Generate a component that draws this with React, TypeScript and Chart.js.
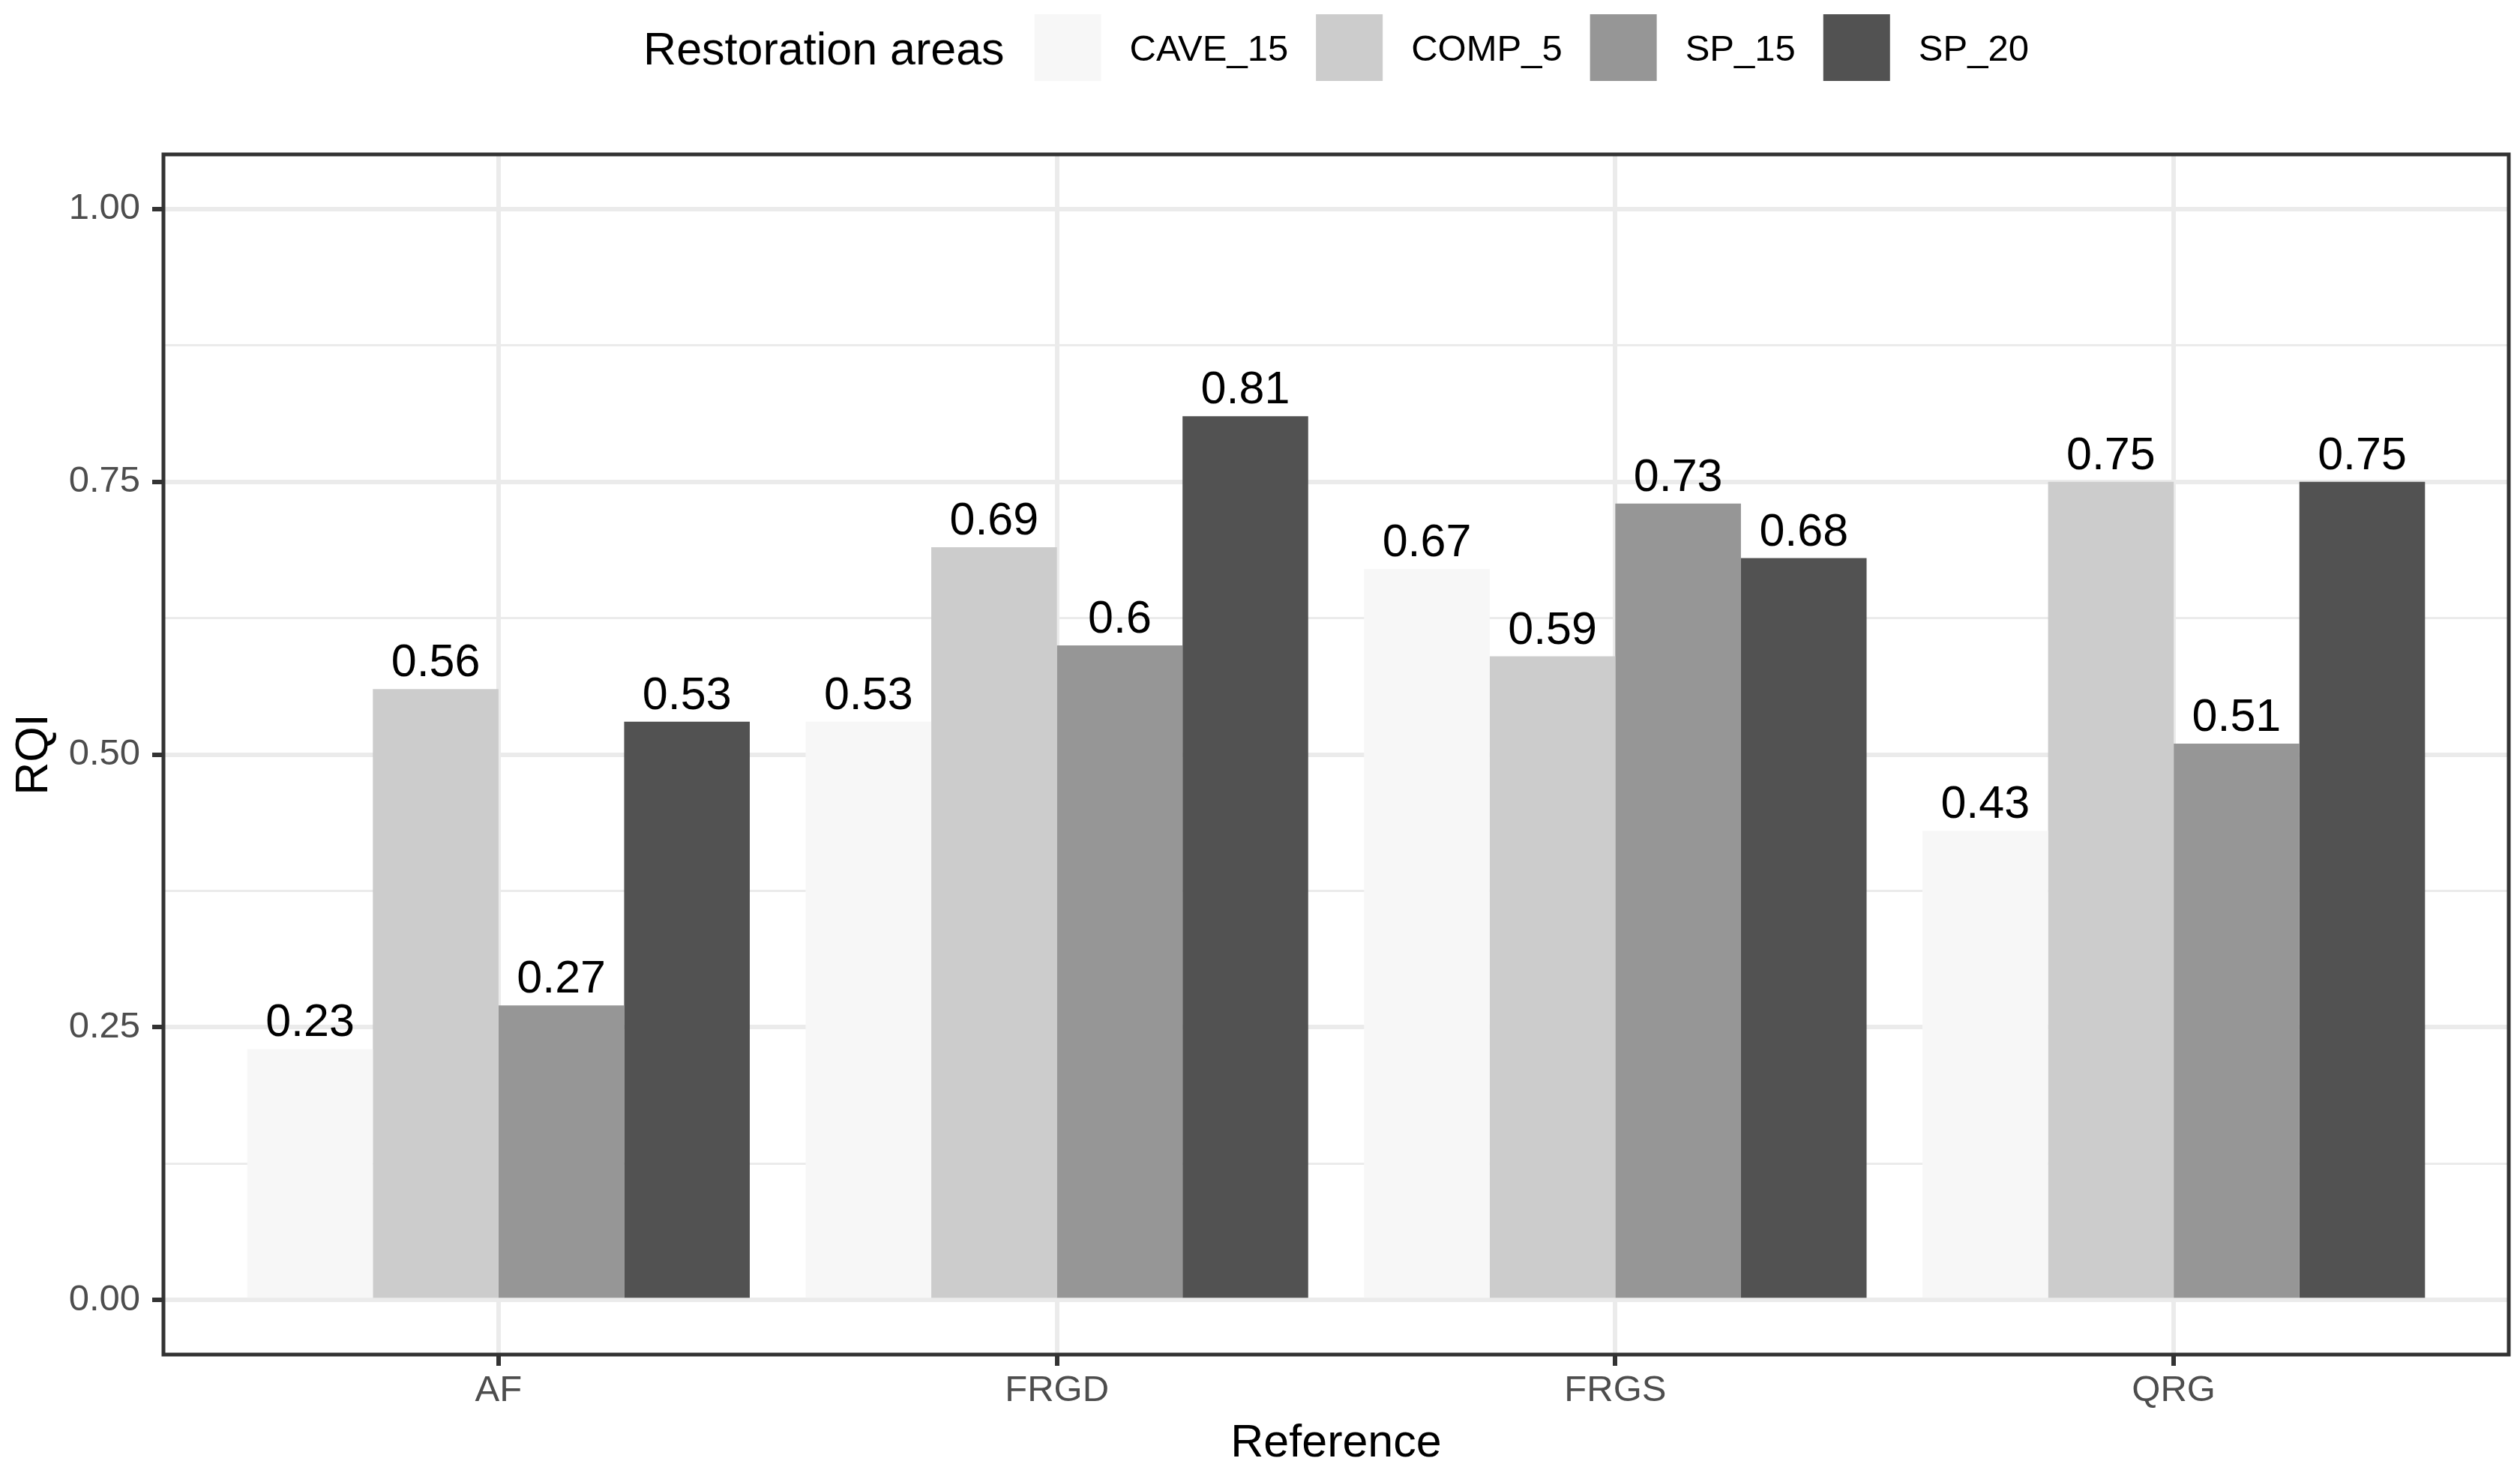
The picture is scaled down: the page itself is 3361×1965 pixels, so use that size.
import React, { useEffect, useRef } from 'react';
import { Chart, registerables } from 'chart.js';

Chart.register(...registerables);

const categories = ['AF', 'FRGD', 'FRGS', 'QRG'];
const seriesNames = ['CAVE_15', 'COMP_5', 'SP_15', 'SP_20'];
const cave15 = [0.23, 0.53, 0.67, 0.43];
const comp5 = [0.56, 0.69, 0.59, 0.75];
const sp15 = [0.27, 0.6, 0.73, 0.51];
const sp20 = [0.53, 0.81, 0.68, 0.75];
const seriesValues = [cave15, comp5, sp15, sp20];
const seriesColors = ['#F7F7F7', '#CCCCCC', '#969696', '#525252'];
const yTickValues = [0, 0.125, 0.25, 0.375, 0.5, 0.625, 0.75, 0.875, 1];
const legendTitle = 'Restoration areas';
const xTitle = 'Reference';
const yTitle = 'RQI';

const FONT = '"Liberation Sans", Arial, Helvetica, sans-serif';
Chart.defaults.font.family = FONT;

const isMajor = (v: number) => v !== undefined && Math.abs(v * 4 - Math.round(v * 4)) < 1e-9;

const ggPlugin = {
  id: 'ggDecor',
  afterDatasetsDraw(chart: any) {
    const { ctx, chartArea } = chart;
    ctx.save();
    // bar value labels
    ctx.fillStyle = '#000000';
    ctx.font = `61px ${FONT}`;
    ctx.textAlign = 'center';
    ctx.textBaseline = 'alphabetic';
    chart.data.datasets.forEach((ds: any, di: number) => {
      const meta = chart.getDatasetMeta(di);
      meta.data.forEach((el: any, i: number) => {
        const v = ds.data[i].y;
        ctx.fillText(String(v), el.x, el.y - 17);
      });
    });
    // panel border
    ctx.strokeStyle = '#333333';
    ctx.lineWidth = 5;
    ctx.strokeRect(chartArea.left, chartArea.top, chartArea.right - chartArea.left, chartArea.bottom - chartArea.top);
    ctx.restore();
  },
  afterDraw(chart: any) {
    const { ctx, chartArea } = chart;
    const cx = (chartArea.left + chartArea.right) / 2;
    const cy = (chartArea.top + chartArea.bottom) / 2;
    ctx.save();
    ctx.fillStyle = '#000000';
    // axis titles
    ctx.font = `61px ${FONT}`;
    ctx.textAlign = 'center';
    ctx.textBaseline = 'alphabetic';
    ctx.fillText(xTitle, cx, 1943);
    ctx.save();
    ctx.translate(63, cy);
    ctx.rotate(-Math.PI / 2);
    ctx.fillText(yTitle, 0, 0);
    ctx.restore();

    // legend
    const keySize = 89;
    const gapTitle = 40;
    const gapKeyText = 38;
    const gapTextKey = 37;
    ctx.textAlign = 'left';
    ctx.font = `61px ${FONT}`;
    const titleW = ctx.measureText(legendTitle).width;
    ctx.font = `49px ${FONT}`;
    const labelWs = chart.data.datasets.map((ds: any) => ctx.measureText(ds.label).width);
    let total = titleW + gapTitle;
    labelWs.forEach((w: number, i: number) => {
      total += keySize + gapKeyText + w + (i < labelWs.length - 1 ? gapTextKey : 0);
    });
    let x = cx - total / 2;
    ctx.font = `61px ${FONT}`;
    ctx.fillStyle = '#000000';
    ctx.fillText(legendTitle, x, 86);
    x += titleW + gapTitle;
    chart.data.datasets.forEach((ds: any, i: number) => {
      ctx.fillStyle = ds.backgroundColor;
      ctx.fillRect(x, 19, keySize, keySize);
      x += keySize + gapKeyText;
      ctx.fillStyle = '#000000';
      ctx.font = `49px ${FONT}`;
      ctx.fillText(ds.label, x, 81);
      x += labelWs[i] + gapTextKey;
    });
    ctx.restore();
  },
};

export default function App() {
  const ref = useRef<HTMLCanvasElement>(null);
  useEffect(() => {
    document.body.style.margin = '0';
    const datasets = seriesNames.map((name, si) => ({
      label: name,
      data: seriesValues[si].map((v, i) => ({ x: i, y: v })),
      backgroundColor: seriesColors[si],
      borderWidth: 0,
      barPercentage: 1,
      categoryPercentage: 0.9,
    }));
    const chart = new Chart(ref.current as HTMLCanvasElement, {
      type: 'bar',
      data: { datasets },
      plugins: [ggPlugin],
      options: {
        responsive: false,
        animation: false,
        devicePixelRatio: 1,
        layout: { padding: { left: 0, top: 206, right: 15, bottom: 0 } },
        plugins: { legend: { display: false }, tooltip: { enabled: false } },
        scales: {
          x: {
            type: 'linear',
            min: -0.6,
            max: 3.6,
            bounds: 'data',
            offset: false,
            afterBuildTicks: (s: any) => {
              s.ticks = categories.map((_, i) => ({ value: i }));
            },
            afterFit: (s: any) => {
              s.height = 158;
            },
            ticks: {
              callback: (v: any) => categories[Math.round(Number(v))] ?? '',
              color: '#4D4D4D',
              font: { size: 49 },
              padding: 4,
              autoSkip: false,
              maxRotation: 0,
            },
            grid: {
              offset: false,
              color: '#EBEBEB',
              lineWidth: 6,
              tickColor: '#333333',
              tickWidth: 6,
              tickLength: 15,
            },
            border: { display: false },
          },
          y: {
            type: 'linear',
            min: -0.05,
            max: 1.05,
            bounds: 'data',
            afterBuildTicks: (s: any) => {
              s.ticks = yTickValues.map((v) => ({ value: v }));
            },
            afterFit: (s: any) => {
              s.width = 218;
            },
            ticks: {
              callback: (v: any) => (isMajor(Number(v)) ? Number(v).toFixed(2) : ''),
              color: '#4D4D4D',
              font: { size: 49 },
              padding: 16,
              autoSkip: false,
            },
            grid: {
              color: '#EBEBEB',
              lineWidth: (c: any) => (isMajor(c.tick?.value) ? 6 : 3),
              tickColor: (c: any) => (isMajor(c.tick?.value) ? '#333333' : 'rgba(0,0,0,0)'),
              tickWidth: 6,
              tickLength: 15,
            },
            border: { display: false },
          },
        },
      } as any,
    });
    return () => chart.destroy();
  }, []);
  return (
    <div style={{ width: 3361, height: 1965 }}>
      <canvas ref={ref} width={3361} height={1965} style={{ width: 3361, height: 1965, display: 'block' }} />
    </div>
  );
}
